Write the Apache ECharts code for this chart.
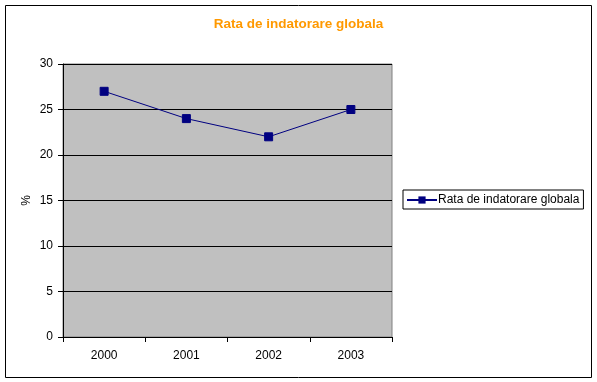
<!DOCTYPE html>
<html>
<head>
<meta charset="utf-8">
<script src="https://cdn.jsdelivr.net/npm/echarts@6/dist/echarts.min.js"></script>
<style>
html,body{margin:0;padding:0;background:#fff;}
#chart{width:597px;height:382px;}
</style>
</head>
<body>
<div id="chart"></div>
<script>
var categories = ['2000', '2001', '2002', '2003'];
var values = [27, 24, 22, 25];
var seriesName = 'Rata de indatorare globala';
var titleText = 'Rata de indatorare globala';
var yAxisName = '%';

var chart = echarts.init(document.getElementById('chart'), null, {renderer: 'canvas'});
chart.setOption({
  animation: false,
  backgroundColor: '#ffffff',
  textStyle: {fontFamily: 'Liberation Sans, Arial, sans-serif'},
  graphic: [{
    type: 'rect',
    shape: {x: 5.5, y: 5.5, width: 586, height: 372},
    style: {fill: 'none', stroke: '#000', lineWidth: 1},
    silent: true
  }],
  title: {
    text: titleText,
    left: 'center',
    top: 12,
    textStyle: {color: '#FF9900', fontSize: 13.5, fontWeight: 'bold', fontFamily: 'Liberation Sans, Arial, sans-serif'}
  },
  legend: {
    left: 403,
    top: 190,
    orient: 'vertical',
    borderColor: '#000',
    borderWidth: 1,
    padding: [4, 4, 3, 3],
    itemWidth: 30,
    itemHeight: 9,
    itemGap: 0,
    textStyle: {fontSize: 12, color: '#000', padding: [0, 0, 0, -4]},
    data: [{name: seriesName}]
  },
  grid: {
    left: 63, top: 64, right: 205, bottom: 45,
    show: true,
    backgroundColor: '#C0C0C0',
    borderColor: '#808080',
    borderWidth: 1
  },
  xAxis: {
    type: 'category',
    data: categories,
    boundaryGap: true,
    axisLine: {lineStyle: {color: '#000', width: 1}},
    axisTick: {show: true, interval: 0, length: 5, lineStyle: {color: '#000'}},
    axisLabel: {color: '#000', fontSize: 12, margin: 13},
    splitLine: {show: false}
  },
  yAxis: {
    type: 'value',
    min: 0, max: 30, interval: 5,
    name: yAxisName,
    nameLocation: 'middle',
    nameGap: 30,
    nameMoveOverlap: false,
    nameRotate: 90,
    nameTextStyle: {color: '#000', fontSize: 12},
    axisLine: {show: true, lineStyle: {color: '#000', width: 1}},
    axisTick: {show: true, length: 5, lineStyle: {color: '#000'}},
    axisLabel: {color: '#000', fontSize: 12, margin: 10},
    splitLine: {show: true, lineStyle: {color: '#000', width: 1}}
  },
  series: [{
    name: seriesName,
    type: 'line',
    data: values,
    symbol: 'rect',
    symbolSize: 8,
    showSymbol: true,
    lineStyle: {color: '#000080', width: 1},
    itemStyle: {color: '#000080', borderColor: '#000080'}
  }]
});
</script>
</body>
</html>
